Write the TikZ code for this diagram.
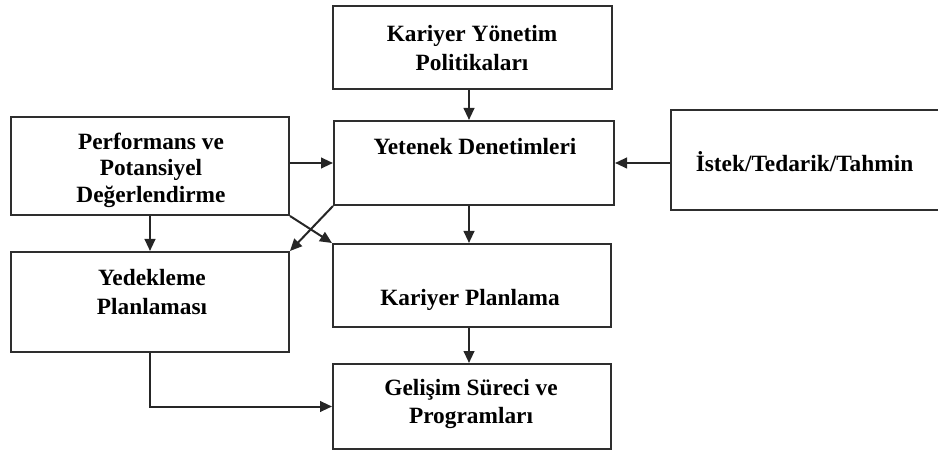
\documentclass[tikz,border=0pt]{standalone}
\usepackage{fontspec}
\setmainfont{Liberation Serif}
\usetikzlibrary{arrows.meta}

\begin{document}
\begin{tikzpicture}[x=0.75pt,y=-0.75pt,
  box/.style={draw=black!82, line width=1.5pt, rectangle, inner sep=0pt},
  lbl/.style={align=center, inner sep=0pt, text=black,
    font=\bfseries\fontsize{17.5}{21.5}\selectfont},
  arr/.style={draw=black!85, line width=1.5pt,
    -{Triangle[length=9pt,width=8pt]}},
]
\useasboundingbox (0,0) rectangle (938,452);
\clip (0,0) rectangle (938,452);

% boxes
\node[box, minimum width=209.25pt, minimum height=62.25pt] (kyp) at (472.5,47.5) {};
\node[box, minimum width=210pt,    minimum height=63pt]    (yet) at (474,163) {};
\node[box, minimum width=208.5pt,  minimum height=73.5pt]  (perf) at (150,166) {};
\node[box, minimum width=203.25pt, minimum height=75pt]    (ist) at (806.5,160) {};
\node[box, minimum width=208.5pt,  minimum height=75pt]    (yed) at (150,302) {};
\node[box, minimum width=208.5pt,  minimum height=62.25pt] (kp) at (472,285.5) {};
\node[box, minimum width=208.5pt,  minimum height=63.75pt] (gel) at (472,406.5) {};

% labels
\node[lbl] (kyp-t) at (472,48) {Kariyer Yönetim\\Politikaları};
\node[lbl] (yet-t) at (475,147) {Yetenek Denetimleri};
\node[lbl, font=\bfseries\fontsize{17.5}{19.8}\selectfont] (perf-t) at (151,170) {Performans ve\\Potansiyel\\Değerlendirme};
\node[lbl] (ist-t) at (804.5,162) {İstek/Tedarik/Tahmin};
\node[lbl] (yed-t) at (152,292) {Yedekleme\\Planlaması};
\node[lbl] (kp-t) at (470,300) {Kariyer Planlama};
\node[lbl] (gel-t) at (471,404) {Gelişim Süreci ve\\Programları};

% vertical spine through the middle column
\coordinate (spine) at (469,0);

% connectors
\draw[arr] (kyp.south -| spine) -- (yet.north -| spine);
\draw[arr] (yet.south -| spine) -- (kp.north -| spine);
\draw[arr] (kp.south -| spine) -- (gel.north -| spine);
\draw[arr] (perf.east |- yet) -- (yet.west);
\draw[arr] (ist.west |- yet) -- (yet.east);
\draw[arr] (yet.south west) -- (yed.north east);
\draw[arr] (perf.south east) -- (kp.north west);
\draw[arr] (perf.south) -- (yed.north);
\draw[arr] (yed.south) |- (gel.west);
\end{tikzpicture}
\end{document}
